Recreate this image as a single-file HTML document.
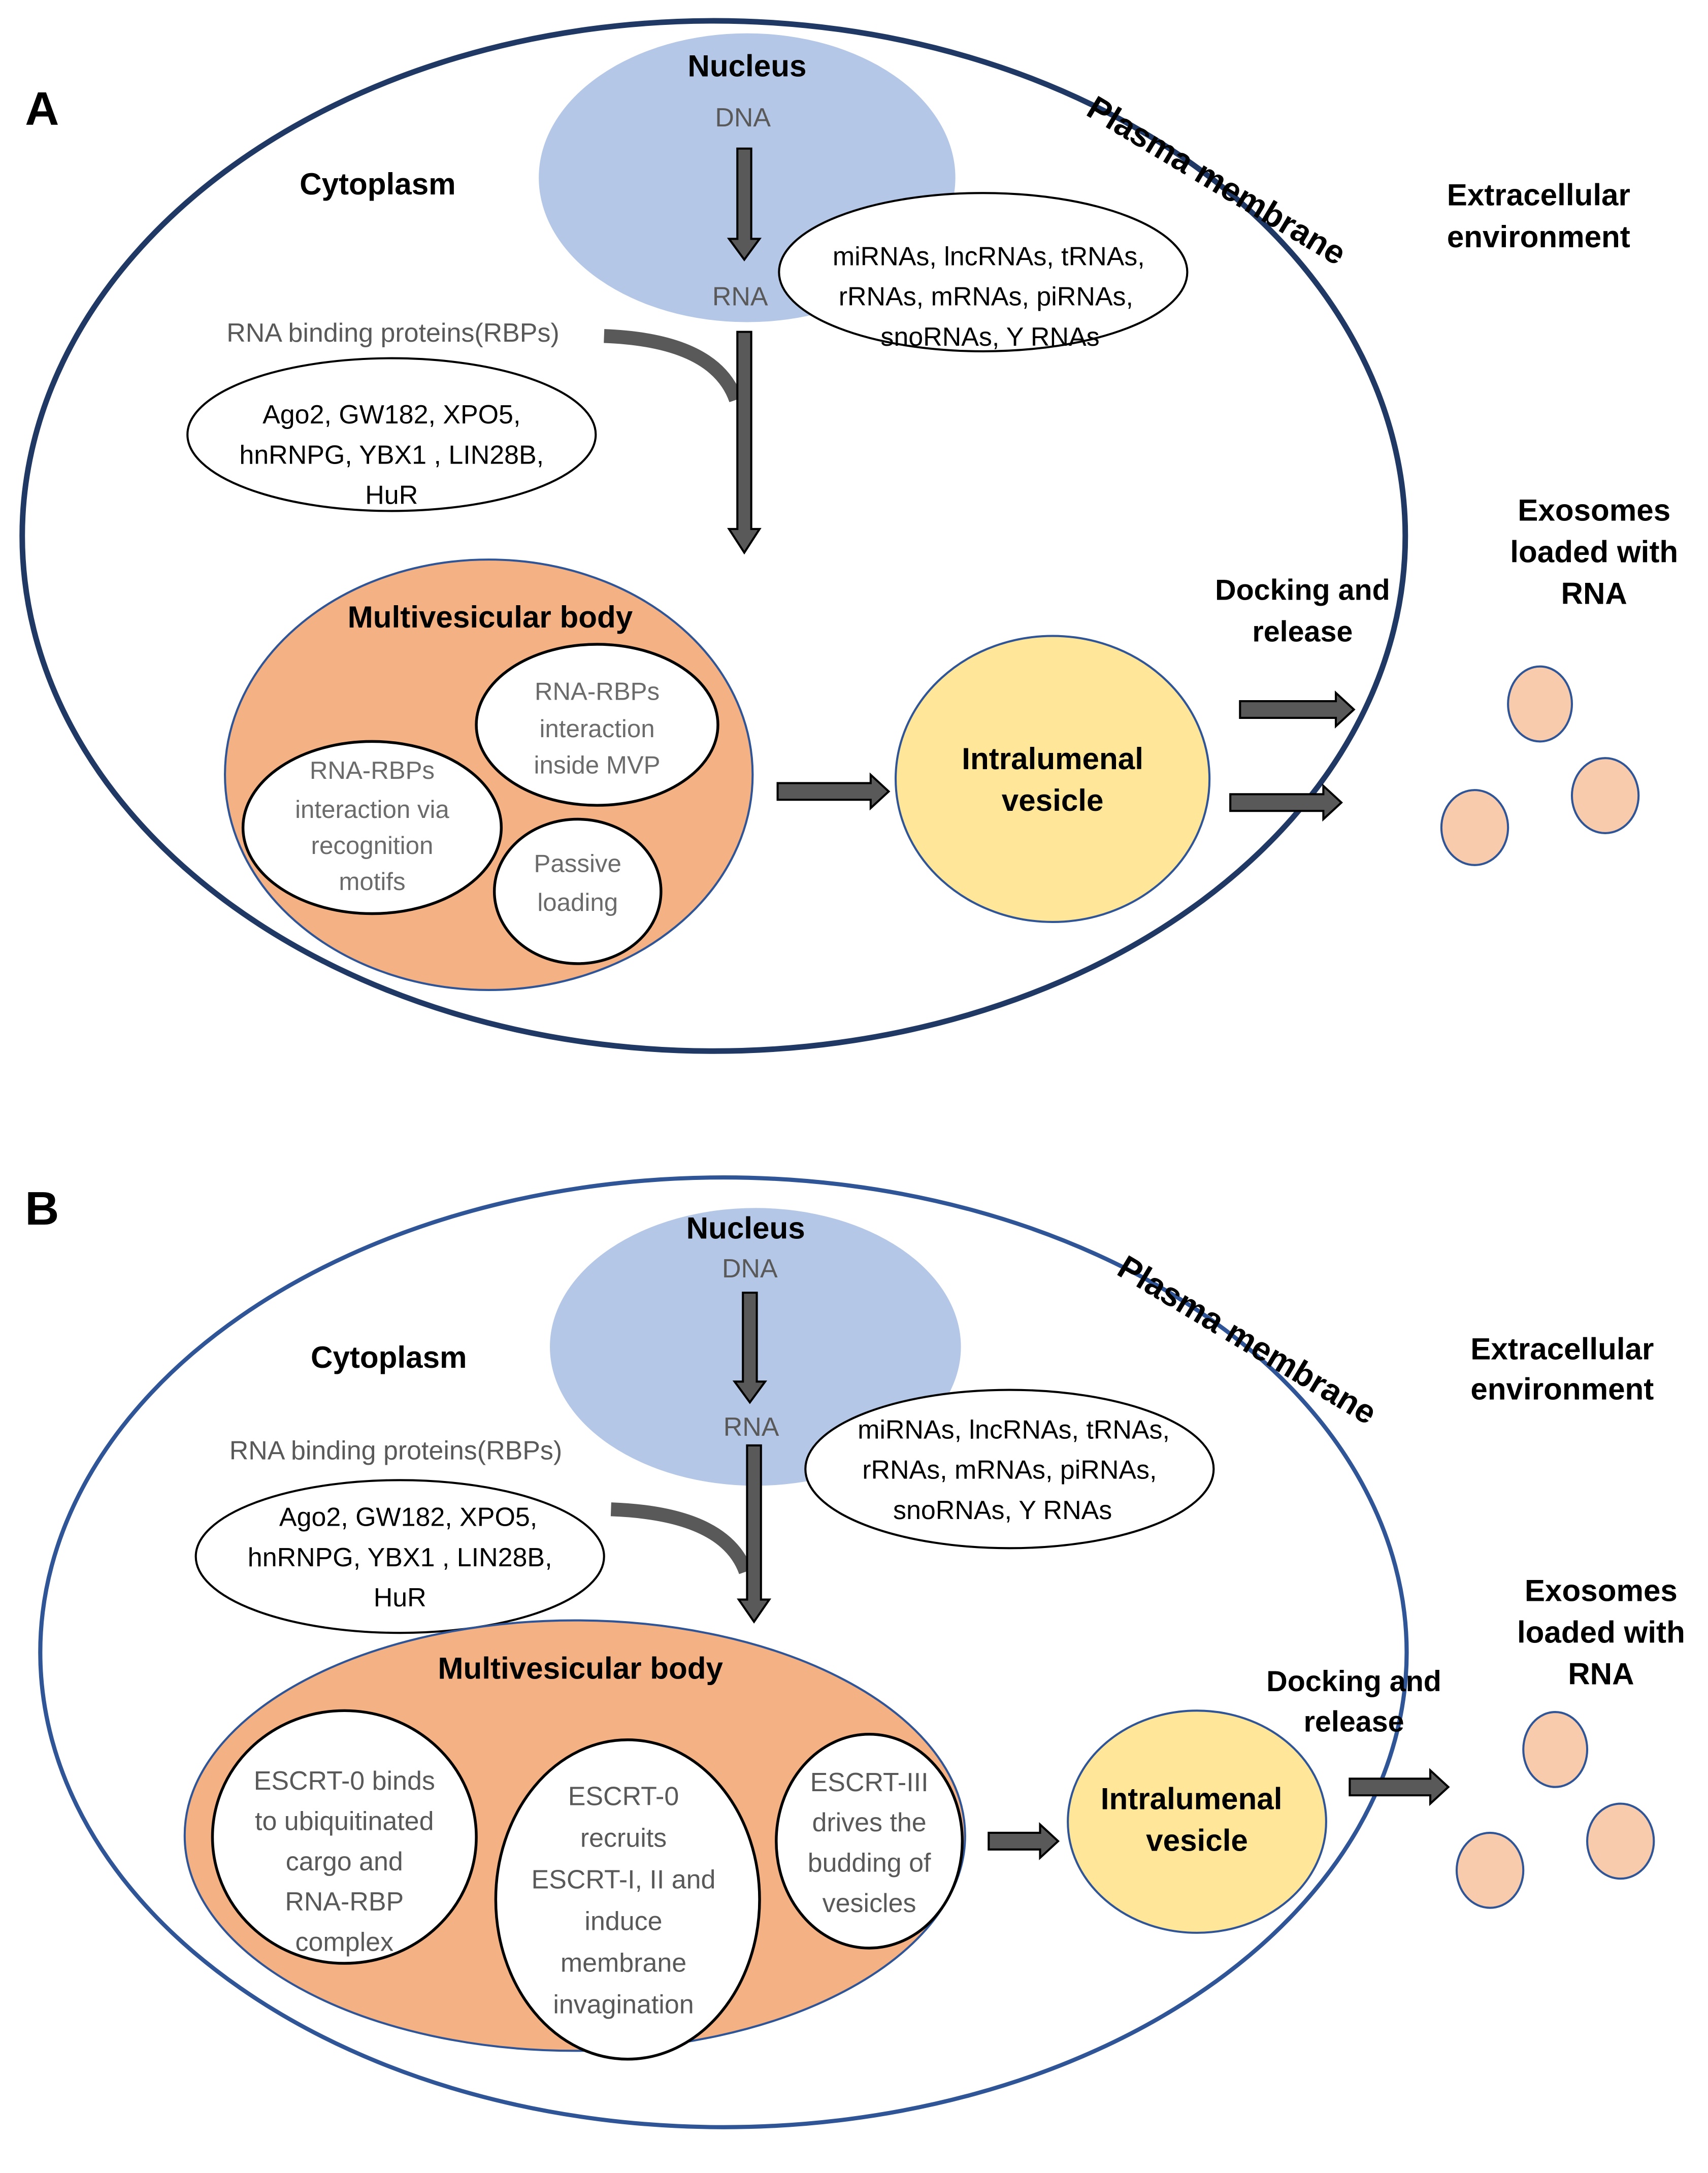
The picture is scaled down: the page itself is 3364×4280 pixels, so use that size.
<!DOCTYPE html>
<html><head><meta charset="utf-8">
<style>
html,body{margin:0;padding:0;background:#fff;}
svg{display:block;}
text{font-family:"Liberation Sans",Arial,sans-serif;}
.b{font-weight:bold;fill:#000;font-size:22px;}
.g{fill:#595959;font-size:19px;}
.k{fill:#000;font-size:19px;}
.s{fill:#6b6b6b;font-size:18px;}
.pm{font-weight:bold;fill:#000;font-size:24px;}
</style></head>
<body>
<svg width="3364" height="4280" viewBox="0 0 1230 1565" preserveAspectRatio="none" xmlns="http://www.w3.org/2000/svg">
<rect width="1230" height="1565" fill="#fff"/>

<!-- ================= PANEL A ================= -->
<text x="18" y="90" style="font-size:34px;font-weight:bold">A</text>
<ellipse cx="514" cy="386" rx="498" ry="371" fill="none" stroke="#203864" stroke-width="4"/>
<ellipse cx="538" cy="128" rx="150" ry="104" fill="#b4c7e7"/>
<text class="b" x="538" y="55" text-anchor="middle">Nucleus</text>
<text class="g" x="535" y="91" text-anchor="middle">DNA</text>
<polygon points="531,107 541,107 541,172 547,172 536,187 525,172 531,172" fill="#595959" stroke="#000" stroke-width="1.5"/>
<text class="g" x="533" y="220" text-anchor="middle">RNA</text>
<ellipse cx="708" cy="196" rx="147" ry="57" fill="#fff" stroke="#000" stroke-width="1.5"/>
<text class="k" x="712" y="191" text-anchor="middle">miRNAs, lncRNAs, tRNAs,</text>
<text class="k" x="710" y="220" text-anchor="middle">rRNAs, mRNAs, piRNAs,</text>
<text class="k" x="713" y="249" text-anchor="middle">snoRNAs, Y RNAs</text>
<text class="b" x="272" y="140" text-anchor="middle">Cytoplasm</text>
<text class="pm" x="872" y="137" text-anchor="middle" transform="rotate(31 872 137)">Plasma membrane</text>
<text class="b" x="1108" y="148" text-anchor="middle">Extracellular</text>
<text class="b" x="1108" y="178" text-anchor="middle">environment</text>
<text class="g" x="283" y="246" text-anchor="middle">RNA binding proteins(RBPs)</text>
<path d="M435,242 Q515,245 530,288" fill="none" stroke="#595959" stroke-width="10"/>
<ellipse cx="282" cy="313" rx="147" ry="55" fill="#fff" stroke="#000" stroke-width="1.5"/>
<text class="k" x="282" y="305" text-anchor="middle">Ago2, GW182, XPO5,</text>
<text class="k" x="282" y="334" text-anchor="middle">hnRNPG, YBX1 , LIN28B,</text>
<text class="k" x="282" y="363" text-anchor="middle">HuR</text>
<polygon points="531,239 541,239 541,381 547,381 536,398 525,381 531,381" fill="#595959" stroke="#000" stroke-width="1.5"/>
<ellipse cx="352" cy="558" rx="190" ry="155" fill="#f4b183" stroke="#2f5597" stroke-width="1.5"/>
<text class="b" x="353" y="452" text-anchor="middle">Multivesicular body</text>
<ellipse cx="430" cy="522" rx="87" ry="58" fill="#fff" stroke="#000" stroke-width="2"/>
<text class="s" x="430" y="504" text-anchor="middle">RNA-RBPs</text>
<text class="s" x="430" y="531" text-anchor="middle">interaction</text>
<text class="s" x="430" y="557" text-anchor="middle">inside MVP</text>
<ellipse cx="268" cy="596" rx="93" ry="62" fill="#fff" stroke="#000" stroke-width="2"/>
<text class="s" x="268" y="561" text-anchor="middle">RNA-RBPs</text>
<text class="s" x="268" y="589" text-anchor="middle">interaction via</text>
<text class="s" x="268" y="615" text-anchor="middle">recognition</text>
<text class="s" x="268" y="641" text-anchor="middle">motifs</text>
<ellipse cx="416" cy="642" rx="60" ry="52" fill="#fff" stroke="#000" stroke-width="2"/>
<text class="s" x="416" y="628" text-anchor="middle">Passive</text>
<text class="s" x="416" y="656" text-anchor="middle">loading</text>
<polygon points="560,564 627,564 627,558 640,570 627,582 627,576 560,576" fill="#595959" stroke="#000" stroke-width="1.5"/>
<ellipse cx="758" cy="561" rx="113" ry="103" fill="#ffe699" stroke="#2f5597" stroke-width="1.5"/>
<text class="b" x="758" y="554" text-anchor="middle">Intralumenal</text>
<text class="b" x="758" y="584" text-anchor="middle">vesicle</text>
<text class="b" x="938" y="432" text-anchor="middle" style="font-size:21px">Docking and</text>
<text class="b" x="938" y="462" text-anchor="middle" style="font-size:21px">release</text>
<polygon points="893,505 962,505 962,499 975,511 962,523 962,517 893,517" fill="#595959" stroke="#000" stroke-width="1.5"/>
<polygon points="886,572 953,572 953,566 966,578 953,590 953,584 886,584" fill="#595959" stroke="#000" stroke-width="1.5"/>
<text class="b" x="1148" y="375" text-anchor="middle">Exosomes</text>
<text class="b" x="1148" y="405" text-anchor="middle">loaded with</text>
<text class="b" x="1148" y="435" text-anchor="middle">RNA</text>
<ellipse cx="1109" cy="507" rx="23" ry="27" fill="#f8cbad" stroke="#2f5597" stroke-width="1.5"/>
<ellipse cx="1156" cy="573" rx="24" ry="27" fill="#f8cbad" stroke="#2f5597" stroke-width="1.5"/>
<ellipse cx="1062" cy="596" rx="24" ry="27" fill="#f8cbad" stroke="#2f5597" stroke-width="1.5"/>

<!-- ================= PANEL B ================= -->
<text x="18" y="882" style="font-size:34px;font-weight:bold">B</text>
<ellipse cx="521" cy="1190" rx="492" ry="342" fill="none" stroke="#2f5597" stroke-width="3"/>
<ellipse cx="544" cy="970" rx="148" ry="100" fill="#b4c7e7"/>
<text class="b" x="537" y="892" text-anchor="middle">Nucleus</text>
<text class="g" x="540" y="920" text-anchor="middle">DNA</text>
<polygon points="535,931 545,931 545,995 551,995 540,1010 529,995 535,995" fill="#595959" stroke="#000" stroke-width="1.5"/>
<text class="g" x="541" y="1034" text-anchor="middle">RNA</text>
<ellipse cx="727" cy="1058" rx="147" ry="57" fill="#fff" stroke="#000" stroke-width="1.5"/>
<text class="k" x="730" y="1036" text-anchor="middle">miRNAs, lncRNAs, tRNAs,</text>
<text class="k" x="727" y="1065" text-anchor="middle">rRNAs, mRNAs, piRNAs,</text>
<text class="k" x="722" y="1094" text-anchor="middle">snoRNAs, Y RNAs</text>
<text class="b" x="280" y="985" text-anchor="middle">Cytoplasm</text>
<text class="pm" x="894" y="972" text-anchor="middle" transform="rotate(31 894 972)">Plasma membrane</text>
<text class="b" x="1125" y="979" text-anchor="middle">Extracellular</text>
<text class="b" x="1125" y="1008" text-anchor="middle">environment</text>
<text class="g" x="285" y="1051" text-anchor="middle">RNA binding proteins(RBPs)</text>
<path d="M440,1087 Q522,1090 537,1132" fill="none" stroke="#595959" stroke-width="10"/>
<ellipse cx="288" cy="1121" rx="147" ry="55" fill="#fff" stroke="#000" stroke-width="1.5"/>
<text class="k" x="294" y="1099" text-anchor="middle">Ago2, GW182, XPO5,</text>
<text class="k" x="288" y="1128" text-anchor="middle">hnRNPG, YBX1 , LIN28B,</text>
<text class="k" x="288" y="1157" text-anchor="middle">HuR</text>
<polygon points="538,1041 548,1041 548,1152 554,1152 543,1168 532,1152 538,1152" fill="#595959" stroke="#000" stroke-width="1.5"/>
<ellipse cx="414" cy="1322" rx="281" ry="155" fill="#f4b183" stroke="#2f5597" stroke-width="1.5"/>
<text class="b" x="418" y="1209" text-anchor="middle">Multivesicular body</text>
<ellipse cx="248" cy="1323" rx="95" ry="91" fill="#fff" stroke="#000" stroke-width="2"/>
<text class="g" x="248" y="1289" text-anchor="middle">ESCRT-0 binds</text>
<text class="g" x="248" y="1318" text-anchor="middle">to ubiquitinated</text>
<text class="g" x="248" y="1347" text-anchor="middle">cargo and</text>
<text class="g" x="248" y="1376" text-anchor="middle">RNA-RBP</text>
<text class="g" x="248" y="1405" text-anchor="middle">complex</text>
<ellipse cx="452" cy="1368" rx="95" ry="115" fill="#fff" stroke="#000" stroke-width="2"/>
<text class="g" x="449" y="1300" text-anchor="middle">ESCRT-0</text>
<text class="g" x="449" y="1330" text-anchor="middle">recruits</text>
<text class="g" x="449" y="1360" text-anchor="middle">ESCRT-I, II and</text>
<text class="g" x="449" y="1390" text-anchor="middle">induce</text>
<text class="g" x="449" y="1420" text-anchor="middle">membrane</text>
<text class="g" x="449" y="1450" text-anchor="middle">invagination</text>
<ellipse cx="626" cy="1326" rx="67" ry="77" fill="#fff" stroke="#000" stroke-width="2"/>
<text class="g" x="626" y="1290" text-anchor="middle">ESCRT-III</text>
<text class="g" x="626" y="1319" text-anchor="middle">drives the</text>
<text class="g" x="626" y="1348" text-anchor="middle">budding of</text>
<text class="g" x="626" y="1377" text-anchor="middle">vesicles</text>
<polygon points="712,1320 749,1320 749,1314 762,1326 749,1338 749,1332 712,1332" fill="#595959" stroke="#000" stroke-width="1.5"/>
<ellipse cx="862" cy="1312" rx="93" ry="80" fill="#ffe699" stroke="#2f5597" stroke-width="1.5"/>
<text class="b" x="858" y="1303" text-anchor="middle">Intralumenal</text>
<text class="b" x="862" y="1333" text-anchor="middle">vesicle</text>
<text class="b" x="975" y="1218" text-anchor="middle" style="font-size:21px">Docking and</text>
<text class="b" x="975" y="1247" text-anchor="middle" style="font-size:21px">release</text>
<polygon points="972,1281 1030,1281 1030,1275 1043,1287 1030,1299 1030,1293 972,1293" fill="#595959" stroke="#000" stroke-width="1.5"/>
<text class="b" x="1153" y="1153" text-anchor="middle">Exosomes</text>
<text class="b" x="1153" y="1183" text-anchor="middle">loaded with</text>
<text class="b" x="1153" y="1213" text-anchor="middle">RNA</text>
<ellipse cx="1120" cy="1260" rx="23" ry="27" fill="#f8cbad" stroke="#2f5597" stroke-width="1.5"/>
<ellipse cx="1167" cy="1326" rx="24" ry="27" fill="#f8cbad" stroke="#2f5597" stroke-width="1.5"/>
<ellipse cx="1073" cy="1347" rx="24" ry="27" fill="#f8cbad" stroke="#2f5597" stroke-width="1.5"/>
</svg>
</body></html>
